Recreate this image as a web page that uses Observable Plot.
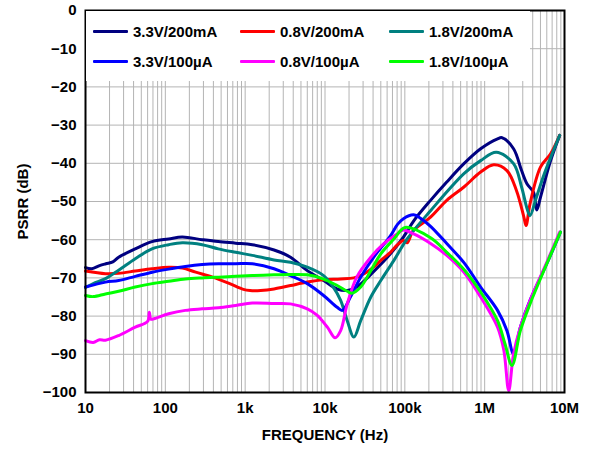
<!DOCTYPE html>
<html>
<head>
<meta charset="utf-8">
<script src="https://cdn.jsdelivr.net/npm/d3@7"></script>
<script src="https://cdn.jsdelivr.net/npm/@observablehq/plot@0.6"></script>
<style>
  html, body { margin: 0; padding: 0; background: #fff; }
  #wrap { position: relative; width: 594px; height: 450px; font-family: "Liberation Sans", Arial, sans-serif; }
  #legend { position: absolute; left: 86px; top: 11px; width: 444px; height: 70px; background: #fff; }
  .entry { position: absolute; display: flex; align-items: center; font-weight: bold; font-size: 15px; color: #000; white-space: nowrap; }
  .sw { width: 35px; height: 3px; margin-right: 5px; border-radius: 1px; }
</style>
</head>
<body>
<div id="wrap"><div id="chart"></div><div id="legend"></div></div>
<script>
// ---- Data ----
const seriesNames = ["3.3V/200mA", "0.8V/200mA", "1.8V/200mA", "3.3V/100µA", "0.8V/100µA", "1.8V/100µA"];
const seriesColors = ["#000080", "#ff0000", "#008080", "#0000ff", "#ff00ff", "#00ff00"];

const f_33_200 = [10, 12, 15, 18, 22, 26, 42, 68, 110, 163, 290, 460, 760, 1230, 2300, 3700, 6000, 9600, 14200, 19000, 25000, 40000, 66000, 96000, 130000, 210000, 335000, 550000, 890000, 1450000, 1650000, 2300000, 2900000, 3400000, 4100000, 4500000, 5000000, 6700000, 8700000];
const v_33_200 = [-67.3, -67.6, -66.8, -66.3, -65.8, -64.6, -62.4, -60.5, -59.8, -59.3, -60, -60.5, -60.9, -61.3, -62.7, -64.6, -68.1, -70.7, -72.9, -73.3, -72.4, -68.5, -63.7, -59.3, -55, -49.7, -44.9, -40.1, -36.2, -33.6, -33.3, -36.2, -41.9, -45.4, -47.6, -52.2, -48.9, -39.3, -32.7];

const f_08_200 = [10, 17.8, 26, 42, 68, 110, 163, 240, 390, 640, 950, 1150, 1560, 2300, 3700, 6000, 9600, 15700, 23000, 31000, 40600, 50000, 66000, 81000, 96000, 107000, 125000, 143000, 210000, 335000, 550000, 890000, 1300000, 1900000, 2500000, 3100000, 3300000, 3700000, 5000000, 6700000, 8700000];
const v_08_200 = [-68.2, -68.9, -68.8, -68.2, -67.6, -67.2, -67.4, -68.5, -69.8, -71.5, -73, -73.3, -73.3, -72.9, -72, -71.1, -70.5, -70.3, -70, -68.9, -67.2, -65.4, -63.3, -61.3, -60.2, -60.8, -57.8, -56.7, -54.1, -49.7, -46.2, -42.3, -40.4, -41.9, -47.1, -54.1, -56.3, -50.6, -41, -37.5, -32.7];

const f_18_200 = [10, 12.5, 17.8, 26, 42, 68, 110, 163, 290, 460, 760, 1230, 2300, 3700, 6000, 9600, 12700, 15700, 19000, 23000, 28000, 37500, 50000, 73000, 107000, 210000, 550000, 890000, 1400000, 2300000, 2900000, 3400000, 3700000, 4400000, 5600000, 8700000];
const v_18_200 = [-72.5, -71.5, -70.2, -68, -65, -62.4, -61.3, -60.8, -61.3, -62.4, -63.3, -64.1, -65.3, -65.9, -67.2, -69.4, -72.4, -75.9, -81.2, -85.5, -81.2, -75, -70.7, -65.4, -59.8, -52.4, -42.7, -39.3, -37.1, -40.1, -46.2, -51.9, -53.7, -49.2, -42.7, -32.7];

const f_33_100 = [10, 17.8, 26, 42, 68.5, 110, 178, 289, 464, 760, 1230, 2300, 3700, 6000, 9600, 14200, 16500, 20800, 28000, 40600, 66000, 81000, 96000, 129000, 160000, 210000, 335000, 550000, 890000, 1450000, 1900000, 2300000, 2800000, 3700000, 6000000, 8900000];
const v_33_100 = [-72.4, -71.1, -70.7, -69.6, -68.5, -67.7, -67, -66.5, -66.3, -66.3, -66.3, -67.6, -69.4, -71.5, -74.6, -77.7, -78.5, -75, -69.8, -64.6, -59, -56, -54.5, -53.5, -54.5, -56.5, -61, -66, -72.4, -78.5, -83.8, -89.9, -82.9, -75.9, -66.3, -58];

const f_08_100 = [10, 12.5, 15, 17.8, 26, 42, 60, 63, 66, 72, 110, 178, 289, 464, 760, 1230, 2300, 3700, 6000, 8000, 10700, 13400, 15700, 19000, 25000, 37500, 54000, 80000, 94000, 129000, 210000, 335000, 550000, 890000, 1450000, 1740000, 2000000, 2300000, 2800000, 3700000, 6000000, 8700000];
const v_08_100 = [-86.4, -86.9, -86.2, -86.3, -85.1, -82.9, -81.4, -79, -80.8, -80.7, -79.4, -78.5, -78.1, -77.8, -77.2, -76.6, -76.7, -76.8, -78.1, -79.8, -82.9, -85.7, -83.8, -76.8, -69.8, -64.6, -61.1, -58.5, -57.5, -58.5, -61, -64.1, -68.5, -75, -82.9, -89, -99.5, -89.9, -82.9, -75.9, -65.9, -58];

const f_18_100 = [10, 12.5, 17.8, 26, 42, 68.5, 110, 178, 289, 464, 760, 1230, 2300, 3700, 6000, 9600, 14200, 19000, 21800, 28000, 37500, 50000, 73000, 101000, 210000, 335000, 550000, 890000, 1450000, 1800000, 2200000, 2800000, 3700000, 6000000, 8900000];
const v_18_100 = [-74.6, -74.9, -74.2, -73.5, -72.4, -71.5, -70.9, -70.3, -70, -69.8, -69.6, -69.4, -69.2, -69.1, -69.2, -70.3, -72, -73.5, -74, -72.4, -68.1, -63.7, -59.8, -56.8, -59.5, -63.3, -67.8, -73.7, -81.2, -87.3, -92.9, -83.8, -76.8, -66.3, -58];

const xTickValues = [10, 100, 1000, 10000, 100000, 1000000, 10000000];
const xTickLabels = ["10", "100", "1k", "10k", "100k", "1M", "10M"];
const yTickValues = [0, -10, -20, -30, -40, -50, -60, -70, -80, -90, -100];
const yTickLabels = ["0", "−10", "−20", "−30", "−40", "−50", "−60", "−70", "−80", "−90", "−100"];

// ---- Build table ----
const freqs = [f_33_200, f_08_200, f_18_200, f_33_100, f_08_100, f_18_100];
const vals = [v_33_200, v_08_200, v_18_200, v_33_100, v_08_100, v_18_100];
const rows = [];
seriesNames.forEach((name, i) => {
  freqs[i].forEach((f, j) => rows.push({series: name, f, db: vals[i][j]}));
});
// minor log gridlines 1..9 per decade
const gridX = [];
for (let d = 10; d < 1e7; d *= 10) for (let k = 1; k <= 9; k++) gridX.push(d * k);
gridX.push(1e7);

const labelMap = new Map(xTickValues.map((v, i) => [v, xTickLabels[i]]));
const yLabelMap = new Map(yTickValues.map((v, i) => [v, yTickLabels[i]]));

const chart = Plot.plot({
  width: 594,
  height: 450,
  marginLeft: 85,
  marginRight: 30,
  marginTop: 10,
  marginBottom: 58,
  style: {fontFamily: "Liberation Sans, Arial, sans-serif", fontWeight: "bold", fontSize: "15px", color: "#000", background: "#fff"},
  x: {type: "log", domain: [10, 1e7]},
  y: {domain: [-100, 0]},
  color: {domain: seriesNames, range: seriesColors},
  marks: [
    Plot.ruleX(gridX, {stroke: "#b4b4b4", strokeWidth: 1}),
    Plot.ruleY(yTickValues, {stroke: "#b4b4b4", strokeWidth: 1}),
    Plot.line(rows, {x: "f", y: "db", z: "series", stroke: "series", strokeWidth: 3, curve: "catmull-rom"}),
    Plot.axisX(xTickValues, {tickSize: 0, tickPadding: 10, tickFormat: d => labelMap.get(d), fontSize: 15, label: "FREQUENCY (Hz)", labelAnchor: "center", labelOffset: 47, labelArrow: "none"}),
    Plot.axisY(yTickValues, {tickSize: 0, tickPadding: 9, tickFormat: d => yLabelMap.get(d), fontSize: 15, label: "PSRR (dB)", labelAnchor: "center", labelOffset: 68, labelArrow: "none"}),
    Plot.frame({stroke: "#000", strokeWidth: 2})
  ]
});
document.getElementById("chart").appendChild(chart);

// ---- Legend (inside plot, top-left, white box) ----
const legend = document.getElementById("legend");
const colX = [7, 154, 303];
const rowY = [20, 50];
seriesNames.forEach((name, i) => {
  const e = document.createElement("div");
  e.className = "entry";
  e.style.left = colX[i % 3] + "px";
  e.style.top = (rowY[Math.floor(i / 3)] - 10) + "px";
  e.style.height = "20px";
  const sw = document.createElement("div");
  sw.className = "sw";
  sw.style.background = seriesColors[i];
  const t = document.createElement("span");
  t.textContent = name;
  e.appendChild(sw); e.appendChild(t);
  legend.appendChild(e);
});
</script>
</body>
</html>
